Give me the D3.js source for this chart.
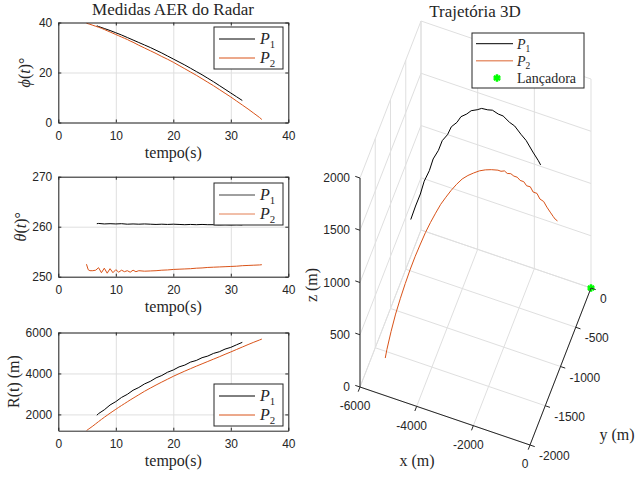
<!DOCTYPE html>
<html>
<head>
<meta charset="utf-8">
<script src="https://cdn.jsdelivr.net/npm/d3@7"></script>
<style>
  body { margin: 0; background: #fff; }
  svg { display: block; }
  .tick text { font-family: 'Liberation Sans', Arial, sans-serif; font-size: 12px; fill: #262626; }
  .serif { font-family: 'Liberation Serif', 'DejaVu Serif', serif; fill: #262626; }
</style>
</head>
<body>
<div id="chart"></div>
<script>
let timeP1 = [6.7, 7, 8, 9, 10, 11, 12, 13, 14, 15, 16, 17, 18, 19, 20, 21, 22, 23, 24, 25, 26, 27, 28, 29, 30, 31, 32]
let elevP1 = [38.7, 38.4, 37.6, 36.8, 35.9, 35.0, 34.0, 33.0, 32.0, 31.0, 30.0, 28.9, 27.8, 26.6, 25.4, 24.2, 23.0, 21.7, 20.4, 19.1, 17.7, 16.3, 14.8, 13.3, 11.8, 10.3, 8.8]
let azimP1 = [260.6, 260.65, 260.55, 260.6, 260.55, 260.6, 260.5, 260.55, 260.5, 260.55, 260.5, 260.45, 260.5, 260.45, 260.5, 260.45, 260.4, 260.45, 260.4, 260.45, 260.4, 260.4, 260.35, 260.4, 260.35, 260.4, 260.35]
let rangeP1 = [1960, 2040, 2225, 2460, 2625, 2830, 2980, 3180, 3315, 3490, 3615, 3785, 3900, 4060, 4170, 4320, 4410, 4555, 4635, 4770, 4850, 4980, 5060, 5190, 5275, 5400, 5520]

let timeP2 = [4.9, 5.2, 5.5, 6, 6.5, 7, 7.5, 8, 8.5, 9, 9.5, 10, 10.5, 11, 11.5, 12, 12.5, 13, 13.5, 14, 15, 16, 17, 18, 19, 20, 21, 22, 23, 24, 25, 26, 27, 28, 29, 30, 31, 32, 33, 34, 35, 35.4]
let elevP2 = [39.7, 39.5, 39.3, 38.9, 38.5, 38.1, 37.7, 37.2, 36.7, 36.2, 35.7, 35.2, 34.7, 34.2, 33.7, 33.2, 32.6, 32.1, 31.5, 30.9, 29.8, 28.7, 27.6, 26.4, 25.3, 24.1, 22.8, 21.5, 20.2, 18.9, 17.5, 16.1, 14.7, 13.2, 11.7, 10.2, 8.6, 7.0, 5.4, 3.7, 2.0, 1.2]
let azimP2 = [252.5, 251.4, 251.2, 251.2, 251.3, 251.8, 250.8, 251.7, 250.7, 251.6, 250.8, 251.4, 250.9, 251.3, 251.0, 251.2, 250.9, 251.3, 251.0, 251.2, 251.1, 251.15, 251.2, 251.3, 251.35, 251.45, 251.5, 251.55, 251.6, 251.7, 251.75, 251.85, 251.9, 251.95, 252.0, 252.05, 252.1, 252.2, 252.25, 252.3, 252.35, 252.4]
let rangeP2 = [1205, 1270, 1330, 1430, 1540, 1650, 1755, 1860, 1960, 2060, 2155, 2250, 2345, 2435, 2525, 2615, 2705, 2790, 2875, 2960, 3130, 3285, 3435, 3580, 3720, 3860, 3990, 4115, 4235, 4355, 4470, 4585, 4700, 4815, 4935, 5050, 5170, 5290, 5410, 5525, 5635, 5680]

let launcher = [0, 0, 0]

let timeTicks = [0, 10, 20, 30, 40]
let elevTicks = [0, 20, 40]
let azimTicks = [250, 260, 270]
let rangeTicks = [2000, 4000, 6000]
let xTicks3d = [-6000, -4000, -2000, 0]
let yTicks3d = [0, -500, -1000, -1500, -2000]
let zTicks3d = [0, 500, 1000, 1500, 2000]

let axisColor = '#262626'
let gridColor = '#dfdfdf'
let orange = '#d95319'

let svg = d3.select('#chart').append('svg')
  .attr('width', 635)
  .attr('height', 477)

// ---------- left column: AER vs time ----------
let x = d3.scaleLinear().domain([0, 40]).range([58.3, 288.3])

function addP(textSel, n, size) {
  textSel.append('tspan').attr('font-style', 'italic').attr('font-size', size).text('P')
  textSel.append('tspan').attr('font-size', size * 0.68).attr('dy', size * 0.28).text(n)
}

function panel(opt) {
  let top = opt.top
  let h = opt.height
  let y = d3.scaleLinear().domain(opt.domain).range([top + h, top])
  let g = svg.append('g')

  // grid
  g.append('g')
    .attr('transform', `translate(0,${top + h})`)
    .call(d3.axisBottom(x).tickValues(timeTicks).tickSize(-h).tickFormat(''))
    .call(a => a.select('.domain').remove())
    .selectAll('line').attr('stroke', gridColor)
  g.append('g')
    .attr('transform', `translate(${x.range()[0]},0)`)
    .call(d3.axisLeft(y).tickValues(opt.ticks).tickSize(-(x.range()[1] - x.range()[0])).tickFormat(''))
    .call(a => a.select('.domain').remove())
    .selectAll('line').attr('stroke', gridColor)

  let line = d3.line()
  let clipId = 'clip' + opt.id
  g.append('clipPath').attr('id', clipId)
    .append('rect').attr('x', x.range()[0]).attr('y', top).attr('width', x.range()[1] - x.range()[0]).attr('height', h)

  g.append('path')
    .attr('clip-path', `url(#${clipId})`)
    .attr('d', line(opt.p1.map((v, i) => [x(timeP1[i]), y(v)])))
    .attr('fill', 'none').attr('stroke', '#000').attr('stroke-width', 1)
  g.append('path')
    .attr('clip-path', `url(#${clipId})`)
    .attr('d', line(opt.p2.map((v, i) => [x(timeP2[i]), y(v)])))
    .attr('fill', 'none').attr('stroke', orange).attr('stroke-width', 1)

  // box and ticks
  let styleAxis = a => {
    a.select('.domain').attr('stroke', axisColor)
    a.selectAll('.tick line').attr('stroke', axisColor)
    a.attr('font-family', null).attr('font-size', null)
  }
  g.append('g').attr('transform', `translate(0,${top + h})`)
    .call(d3.axisBottom(x).tickValues(timeTicks).tickSize(-3).tickSizeOuter(0).tickPadding(9))
    .call(styleAxis)
  g.append('g').attr('transform', `translate(0,${top})`)
    .call(d3.axisTop(x).tickValues(timeTicks).tickSize(-3).tickSizeOuter(0).tickFormat(''))
    .call(styleAxis)
  g.append('g').attr('transform', `translate(${x.range()[0]},0)`)
    .call(d3.axisLeft(y).tickValues(opt.ticks).tickFormat(d3.format('d')).tickSize(-3).tickSizeOuter(0).tickPadding(6))
    .call(styleAxis)
  g.append('g').attr('transform', `translate(${x.range()[1]},0)`)
    .call(d3.axisRight(y).tickValues(opt.ticks).tickSize(-3).tickSizeOuter(0).tickFormat(''))
    .call(styleAxis)

  g.append('text').attr('class', 'serif')
    .attr('x', (x.range()[0] + x.range()[1]) / 2).attr('y', top + h + 30)
    .attr('dy', '0.35em').attr('text-anchor', 'middle').attr('font-size', 16)
    .text('tempo(s)')

  let yl = g.append('text').attr('class', 'serif')
    .attr('transform', `translate(${opt.labelX},${top + h / 2}) rotate(-90)`)
    .attr('text-anchor', 'middle').attr('dy', '0.35em').attr('font-size', 16)
  opt.ylabel(yl)

  // legend
  let lg = g.append('g')
  let lx = 214, lw = 69, lt = opt.legendTop
  lg.append('rect').attr('x', lx).attr('y', lt).attr('width', lw).attr('height', 42)
    .attr('fill', '#fff').attr('stroke', axisColor).attr('stroke-width', 1)
  ;[['1', '#000', 12], ['2', orange, 31]].forEach(([n, c, dy]) => {
    lg.append('line').attr('x1', lx + 5).attr('x2', lx + 41).attr('y1', lt + dy).attr('y2', lt + dy)
      .attr('stroke', c).attr('stroke-width', 1).attr('stroke-opacity', opt.legendAlpha)
    let t = lg.append('text').attr('class', 'serif').attr('x', lx + 46).attr('y', lt + dy + 5)
    addP(t, n, 16)
  })
}

panel({
  id: 1, top: 22.5, height: 100, domain: [0, 40], ticks: elevTicks,
  p1: elevP1, p2: elevP2, legendTop: 27, labelX: 24, legendAlpha: 1,
  ylabel: t => {
    t.append('tspan').attr('font-style', 'italic').text('ϕ')
    t.append('tspan').text('(')
    t.append('tspan').attr('font-style', 'italic').text('t')
    t.append('tspan').text(')°')
  }
})
panel({
  id: 2, top: 176.7, height: 100, domain: [250, 270], ticks: azimTicks,
  p1: azimP1, p2: azimP2, legendTop: 183, labelX: 20, legendAlpha: 0.75,
  ylabel: t => {
    t.append('tspan').attr('font-style', 'italic').text('θ')
    t.append('tspan').text('(')
    t.append('tspan').attr('font-style', 'italic').text('t')
    t.append('tspan').text(')°')
  }
})
panel({
  id: 3, top: 332.5, height: 98.2, domain: [rangeP2[0], 6000], ticks: rangeTicks,
  p1: rangeP1, p2: rangeP2, legendTop: 384, labelX: 13, legendAlpha: 1,
  ylabel: t => t.text('R(t) (m)')
})

svg.append('text').attr('class', 'serif')
  .attr('x', 173).attr('y', 9).attr('dy', '0.35em')
  .attr('text-anchor', 'middle').attr('font-size', 17)
  .text('Medidas AER do Radar')

// ---------- right: 3D trajectory ----------
let sx = d3.scaleLinear().domain([-6000, 0]).range([0, 1])
let sy = d3.scaleLinear().domain([-2000, 0]).range([0, 1])
let sz = d3.scaleLinear().domain([0, 2000]).range([0, 1])
let origin = [360, 387]
let ex = [170, 58], ey = [61, -157], ez = [0, -209]

function proj(p) {
  let a = sx(p[0]), b = sy(p[1]), c = sz(p[2])
  return [origin[0] + a * ex[0] + b * ey[0] + c * ez[0],
          origin[1] + a * ex[1] + b * ey[1] + c * ez[1]]
}

// azimuth / elevation / range -> east, north, up
function aerToXYZ(az, el, r) {
  let a = az * Math.PI / 180
  let e = el * Math.PI / 180
  let hz = r * Math.cos(e)
  return [hz * Math.sin(a), hz * Math.cos(a), r * Math.sin(e)]
}

let g3 = svg.append('g')
let seg = (p, q) => g3.append('line')
  .attr('x1', proj(p)[0]).attr('y1', proj(p)[1])
  .attr('x2', proj(q)[0]).attr('y2', proj(q)[1])

let [x0, x1] = sx.domain(), [y0, y1] = sy.domain(), [z0, z1] = sz.domain()

// floor grid
xTicks3d.forEach(v => seg([v, y0, z0], [v, y1, z0]).attr('stroke', gridColor))
yTicks3d.forEach(v => seg([x0, v, z0], [x1, v, z0]).attr('stroke', gridColor))
// back wall x = -6000
yTicks3d.forEach(v => seg([x0, v, z0], [x0, v, z1]).attr('stroke', gridColor))
zTicks3d.forEach(v => seg([x0, y0, v], [x0, y1, v]).attr('stroke', gridColor))
// back wall y = 0
xTicks3d.forEach(v => seg([v, y1, z0], [v, y1, z1]).attr('stroke', gridColor))
zTicks3d.forEach(v => seg([x0, y1, v], [x1, y1, v]).attr('stroke', gridColor))

let line3 = d3.line()
let traj1 = timeP1.map((t, i) => proj(aerToXYZ(azimP1[i], elevP1[i], rangeP1[i])))
let traj2 = timeP2.map((t, i) => proj(aerToXYZ(azimP2[i], elevP2[i], rangeP2[i])))
g3.append('path').attr('d', line3(traj1)).attr('fill', 'none').attr('stroke', '#000').attr('stroke-width', 1)
g3.append('path').attr('d', line3(traj2)).attr('fill', 'none').attr('stroke', orange).attr('stroke-width', 1)

let lp = proj(launcher)
g3.append('path')
  .attr('transform', `translate(${lp[0]},${lp[1]})`)
  .attr('d', d3.symbol(d3.symbolAsterisk, 40)())
  .attr('fill', 'none').attr('stroke', '#00ff00').attr('stroke-width', 2.5)

// axis lines
seg([x0, y0, z0], [x1, y0, z0]).attr('stroke', axisColor)
seg([x1, y0, z0], [x1, y1, z0]).attr('stroke', axisColor)
seg([x0, y0, z0], [x0, y0, z1]).attr('stroke', axisColor)

function unit(v) { let l = Math.hypot(v[0], v[1]); return [v[0] / l, v[1] / l] }
let tickLen = 5
let txDir = unit([-ey[0], -ey[1]]), tyDir = unit(ex), tzDir = unit([-ex[0], -ex[1]])

xTicks3d.forEach(v => {
  let p = proj([v, y0, z0])
  g3.append('line').attr('x1', p[0]).attr('y1', p[1])
    .attr('x2', p[0] + txDir[0] * tickLen).attr('y2', p[1] + txDir[1] * tickLen).attr('stroke', axisColor)
  g3.append('text').attr('class', 'tick-3d').attr('x', p[0] - 5).attr('y', p[1] + 19)
    .attr('dy', '0.35em').attr('text-anchor', 'middle').text(v)
})
yTicks3d.forEach(v => {
  let p = proj([x1, v, z0])
  g3.append('line').attr('x1', p[0]).attr('y1', p[1])
    .attr('x2', p[0] + tyDir[0] * tickLen).attr('y2', p[1] + tyDir[1] * tickLen).attr('stroke', axisColor)
  g3.append('text').attr('class', 'tick-3d').attr('x', p[0] + 9).attr('y', p[1] + 11)
    .attr('dy', '0.35em').attr('text-anchor', 'start').text(v)
})
zTicks3d.forEach(v => {
  let p = proj([x0, y0, v])
  g3.append('line').attr('x1', p[0]).attr('y1', p[1])
    .attr('x2', p[0] + tzDir[0] * tickLen).attr('y2', p[1] + tzDir[1] * tickLen).attr('stroke', axisColor)
  g3.append('text').attr('class', 'tick-3d').attr('x', p[0] - 10).attr('y', p[1])
    .attr('dy', '0.35em').attr('text-anchor', 'end').text(v)
})
g3.selectAll('.tick-3d')
  .attr('font-family', "'Liberation Sans', Arial, sans-serif")
  .attr('font-size', 12).attr('fill', axisColor)

g3.append('text').attr('class', 'serif').attr('x', 417).attr('y', 460).attr('dy', '0.35em')
  .attr('text-anchor', 'middle').attr('font-size', 16).text('x (m)')
g3.append('text').attr('class', 'serif').attr('x', 617).attr('y', 434).attr('dy', '0.35em')
  .attr('text-anchor', 'middle').attr('font-size', 16).text('y (m)')
g3.append('text').attr('class', 'serif')
  .attr('transform', 'translate(311,285) rotate(-90)').attr('dy', '0.35em')
  .attr('text-anchor', 'middle').attr('font-size', 16).text('z (m)')

g3.append('text').attr('class', 'serif').attr('x', 475).attr('y', 11).attr('dy', '0.35em')
  .attr('text-anchor', 'middle').attr('font-size', 17).text('Trajetória 3D')

// 3D legend
let lg3 = g3.append('g')
lg3.append('rect').attr('x', 472).attr('y', 33).attr('width', 112).attr('height', 55)
  .attr('fill', '#fff').attr('stroke', axisColor).attr('stroke-width', 1)
lg3.append('line').attr('x1', 476).attr('x2', 513).attr('y1', 43.7).attr('y2', 43.7).attr('stroke', '#000')
lg3.append('line').attr('x1', 476).attr('x2', 513).attr('y1', 60.7).attr('y2', 60.7)
  .attr('stroke', orange).attr('stroke-opacity', 0.6).attr('stroke-width', 1.5)
addP(lg3.append('text').attr('class', 'serif').attr('x', 517).attr('y', 48.5), '1', 14)
addP(lg3.append('text').attr('class', 'serif').attr('x', 517).attr('y', 65.5), '2', 14)
lg3.append('path').attr('transform', 'translate(497,78)')
  .attr('d', d3.symbol(d3.symbolAsterisk, 40)())
  .attr('fill', 'none').attr('stroke', '#00ff00').attr('stroke-width', 2.5)
lg3.append('text').attr('class', 'serif').attr('x', 517).attr('y', 78).attr('dy', '0.35em')
  .attr('font-size', 14).text('Lançadora')
</script>
</body>
</html>
